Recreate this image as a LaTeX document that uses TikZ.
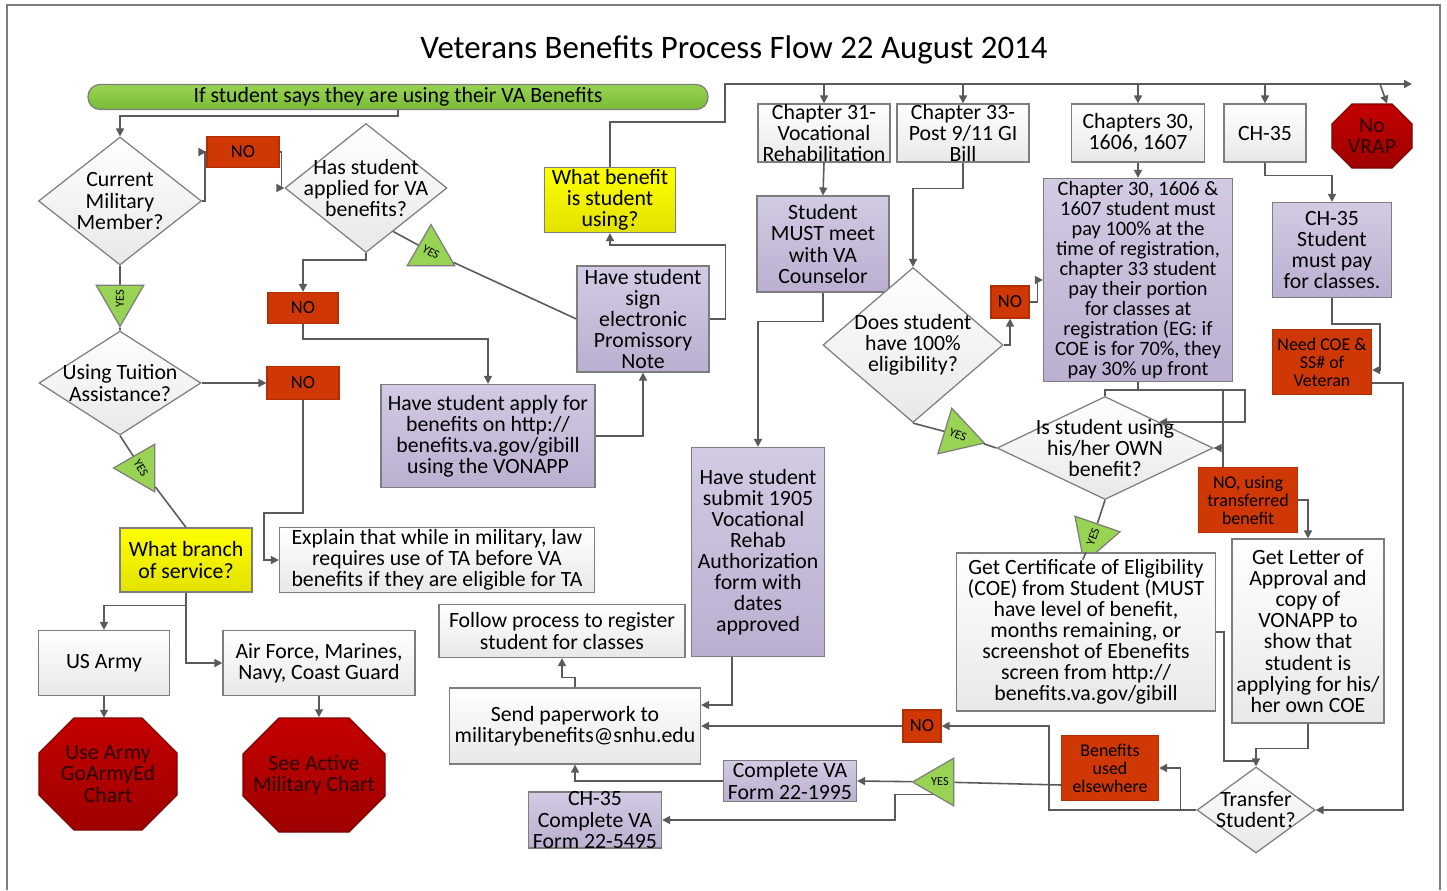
\documentclass[tikz,border=0pt]{standalone}
\usepackage{fontspec}
\setmainfont{Carlito}
\usetikzlibrary{positioning,shapes.geometric,arrows.meta}

\definecolor{lnc}{RGB}{90,90,90}
\definecolor{bdc}{RGB}{125,125,125}
\definecolor{prtop}{RGB}{210,203,227}
\definecolor{prbot}{RGB}{186,175,208}
\definecolor{nored}{RGB}{207,56,4}
\definecolor{stopred}{RGB}{196,0,0}
\definecolor{stopdark}{RGB}{158,0,0}
\definecolor{stoptext}{RGB}{40,0,0}
\definecolor{grtop}{RGB}{152,211,84}
\definecolor{grbot}{RGB}{121,186,52}
\definecolor{yltop}{RGB}{255,255,0}
\definecolor{ylbot}{RGB}{226,226,0}

\newlength\px
\setlength\px{0.02cm}

% octagon: centre x, centre y, half width, half height, chamfer
\newcommand\stopoct[5]{%
  \path[top color=stopred, bottom color=stopdark, draw=stopdark!80!black, line width=0.7pt]
    ({#1-#3+#5},{#2-#4}) -- ({#1+#3-#5},{#2-#4}) -- ({#1+#3},{#2-#4+#5})
    -- ({#1+#3},{#2+#4-#5}) -- ({#1+#3-#5},{#2+#4}) -- ({#1-#3+#5},{#2+#4})
    -- ({#1-#3},{#2+#4-#5}) -- ({#1-#3},{#2-#4+#5}) -- cycle;}

\tikzset{
  wh/.style 2 args={minimum width=#1\px, minimum height=#2\px},
  base/.style={draw=bdc, line width=0.7pt, align=center, inner sep=1pt,
    font=\fontsize{12.4}{12}\selectfont},
  plainbox/.style={base, rectangle, top color=white, bottom color=black!9},
  taskbox/.style={base, rectangle, top color=prtop, bottom color=prbot},
  askbox/.style={base, rectangle, top color=yltop, bottom color=ylbot},
  nobox/.style={base, rectangle, fill=nored, draw=nored!85!black,
    font=\fontsize{10.5}{12}\selectfont},
  smalltext/.style={font=\fontsize{10.2}{10.2}\selectfont},
  decision/.style={base, diamond, inner sep=-8pt, top color=white, bottom color=black!9},
  stoptxt/.style={align=center, inner sep=1pt, text=stoptext,
    font=\fontsize{12.4}{12}\selectfont},
  yesflag/.style={base, regular polygon, regular polygon sides=3, minimum size=55\px,
    inner sep=0pt, fill=grtop, font=\fontsize{7}{8}\selectfont},
  line/.style={draw=lnc, line width=0.9pt},
  conn/.style={line, -{Triangle[length=4.5pt,width=4.5pt]}},
}

\begin{document}
\begin{tikzpicture}[x=0.02cm,y=-0.02cm]
  \useasboundingbox (0,0) rectangle (1447,890);
  \draw[bdc, line width=1.2pt] (7,890) -- (7,5) -- (1440,5) -- (1440,890);
  \node[font=\fontsize{18.7}{22}\selectfont] (title) at (734,50) {Veterans Benefits Process Flow 22 August 2014};
  \node[base, rounded corners=12\px, top color=grtop, bottom color=grbot, wh={620}{25}] (start) at (398,97) {If student says they are using their VA Benefits};

  % left column
  \node[decision, wh={163}{128}, aspect=1.27] (cmm) at (120,201) {Current\\Military\\Member?};
  \node[nobox, wh={72}{31}] (no1) at (243,152) {NO};
  \node[decision, wh={162}{129}, aspect=1.26] (applied) at (366,188) {Has student\\applied for VA\\benefits?};
  \node[yesflag, rotate=90, shape border rotate=90] (yes1) at (120,299) {YES};
  \node[nobox, wh={70}{31}] (no2) at (303,308) {NO};
  \node[yesflag, rotate=-30, shape border rotate=30] (yes2) at (431,252) {YES};
  \node[decision, wh={162}{104}, aspect=1.56] (ta) at (120,383) {Using Tuition\\Assistance?};
  \node[nobox, wh={72}{33}] (no3) at (303,383) {NO};
  \node[yesflag, rotate=-60, shape border rotate=150] (yes3) at (141,468) {YES};
  \node[askbox, wh={132}{64}] (branch) at (186,560) {What branch\\of service?};
  \node[plainbox, wh={315}{64}] (explain) at (437,560) {Explain that while in military, law\\requires use of TA before VA\\benefits if they are eligible for TA};
  \node[plainbox, wh={131}{65}] (army) at (104,663) {US Army};
  \node[plainbox, wh={192}{65}] (airforce) at (319,663) {Air Force, Marines,\\Navy, Coast Guard};
  \stopoct{108}{774}{69}{56}{35}
  \node[stoptxt, wh={138}{112}] (armyoct) at (108,774) {Use Army\\GoArmyEd\\Chart};
  \stopoct{314}{775}{71}{57}{36}
  \node[stoptxt, wh={143}{115}] (activeoct) at (314,775) {See Active\\Military Chart};

  % middle column
  \node[taskbox, wh={214}{103}] (apply) at (488,436) {Have student apply for\\benefits on http://\\benefits.va.gov/gibill\\using the VONAPP};
  \node[taskbox, wh={132}{106}] (sign) at (643,319) {Have student\\sign\\electronic\\Promissory\\Note};
  \node[askbox, wh={131}{65}] (whatben) at (610,200) {What benefit\\is student\\using?};
  \node[plainbox, wh={246}{53}] (follow) at (562,631) {Follow process to register\\student for classes};
  \node[plainbox, wh={251}{76}] (send) at (575,726) {Send paperwork to\\militarybenefits@snhu.edu};
  \node[taskbox, wh={133}{41}, inner ysep=-1pt] (form1995) at (790,781) {Complete VA\\Form 22-1995};
  \node[taskbox, wh={133}{56}, inner ysep=-3pt] (form5495) at (595,820) {CH-35\\Complete VA\\Form 22-5495};

  % chapter boxes
  \node[plainbox, wh={132}{58}, inner ysep=-2pt] (ch31) at (824,133) {Chapter 31-\\Vocational\\Rehabilitation};
  \node[plainbox, wh={132}{58}, inner ysep=-2pt] (ch33) at (963,133) {Chapter 33-\\Post 9/11 GI\\Bill};
  \node[plainbox, wh={133}{58}] (ch30) at (1138,133) {Chapters 30,\\1606, 1607};
  \node[plainbox, wh={82}{58}] (ch35) at (1265,133) {CH-35};
  \stopoct{1372}{136}{40}{32}{20}
  \node[stoptxt, wh={80}{64}] (novrap) at (1372,136) {No\\VRAP};

  % right part
  \node[taskbox, wh={132}{96}] (meet) at (823,244) {Student\\MUST meet\\with VA\\Counselor};
  \node[taskbox, wh={133}{209}] (submit) at (758,552) {Have student\\submit 1905\\Vocational\\Rehab\\Authorization\\form with\\dates\\approved};
  \node[decision, wh={180}{155}, aspect=1.16] (hundred) at (913,345) {Does student\\have 100\%\\eligibility?};
  \node[nobox, wh={38}{32}] (no4) at (1010,302) {NO};
  \node[taskbox, wh={189}{203}, inner ysep=-3pt, font=\fontsize{11.6}{11.4}\selectfont] (pay) at (1138,280) {Chapter 30, 1606 \&\\1607 student must\\pay 100\% at the\\time of registration,\\chapter 33 student\\pay their portion\\for classes at\\registration (EG: if\\COE is for 70\%, they\\pay 30\% up front};
  \node[yesflag, rotate=-22, shape border rotate=35] (yes4) at (958,435) {YES};
  \node[decision, wh={216}{103}, aspect=2.1] (own) at (1105,448) {Is student using\\his/her OWN\\benefit?};
  \node[yesflag, rotate=70, shape border rotate=91] (yes5) at (1093,537) {YES};
  \node[plainbox, wh={259}{158}] (coe) at (1086,632) {Get Certificate of Eligibility\\(COE) from Student (MUST\\have level of benefit,\\months remaining, or\\screenshot of Ebenefits\\screen from http://\\benefits.va.gov/gibill};
  \node[nobox, smalltext, wh={99}{65}] (notrans) at (1248,500) {NO, using\\transferred\\benefit};
  \node[plainbox, wh={152}{184}] (letter) at (1308,631) {Get Letter of\\Approval and\\copy of\\VONAPP to\\show that\\student is\\applying for his/\\her own COE};
  \node[taskbox, wh={119}{95}] (ch35pay) at (1332,250) {CH-35\\Student\\must pay\\for classes.};
  \node[nobox, smalltext, wh={99}{65}] (needcoe) at (1322,362) {Need COE \&\\SS\# of\\Veteran};
  \node[decision, wh={118}{86}, aspect=1.37] (transfer) at (1256,810) {Transfer\\Student?};
  \node[nobox, wh={38}{32}] (no5) at (922,726) {NO};
  \node[nobox, smalltext, wh={97}{65}] (elsewhere) at (1110,768) {Benefits\\used\\elsewhere};
  \node[yesflag, shape border rotate=90] (yes6) at (940,782) {YES};

  % connectors, left
  \draw[conn] (start.south) -- ++(0,6) -| (cmm.north);
  \draw[conn] (cmm.east) -- ++(3,0) |- (no1.west);
  \draw[conn] (no1.east) -- ++(2,0) |- (applied.west);
  \draw[conn] (applied.south) -- ++(0,7) -| (no2.north);
  \draw[conn] (no2.south) -- ++(0,15) -| (apply.north);
  \draw[line] (applied.-58) -- (yes2) -- (sign.west);
  \draw[line] (cmm.south) -- (yes1) -- (ta.north);
  \draw[conn] (ta.east) -- (no3.west);
  \draw[conn] (no3.south) |- (264,513) |- (explain.west);
  \draw[line] (ta.south) -- (yes3) -- (branch.north);
  \draw[conn] (branch.south) -- ++(0,13) -| (army.north);
  \draw[conn] (branch.south) |- (airforce.west);
  \draw[conn] (army.south) -- (army.south |- armyoct.north);
  \draw[conn] (airforce.south) -- (airforce.south |- activeoct.north);

  % connectors, middle
  \draw[conn] (apply.east) -| (sign.south);
  \draw[conn] (sign.east) -- ++(16,0) -- ++(0,-74) -| (whatben.south);
  \coordinate (busend) at (1412,84);
  \draw[conn] (whatben.north) |- (725,122) |- (busend);
  \foreach \n in {ch31,ch33,ch30,ch35}
    \draw[conn] (\n.north |- busend) -- (\n.north);
  \draw[conn] (busend -| 1380,0) -- ([xshift=15\px]novrap.north);
  \draw[conn] (ch31.south) -- (meet.north);
  \draw[conn] (meet.south) -- ++(0,29) -| (submit.north);
  \draw[conn] ([xshift=-26\px]submit.south) |- ([yshift=21\px]send.east);
  \draw[conn] (send.north) -- ++(0,-10) -| (follow.south);
  \draw[conn] (form1995.west) -| (send.south);

  % connectors, right
  \draw[conn] (ch33.south) -- ++(0,26) -| (hundred.north);
  \draw[conn] (ch30.south) -- (pay.north);
  \draw[conn] (hundred.east) -| (no4.south);
  \draw[conn] (no4.east) -- ++(8,0) |- (pay.west);
  \draw[line] (hundred.south) -- (yes4) -- (own.west);
  \coordinate (split) at (1138,390);
  \coordinate (tap) at (1223,448);
  \draw[line] (pay.south) -- (split) -| (own.north);
  \draw[conn] (split) -| (own.north east -| 1245,0) -- (own.north east);
  \draw[line] (split -| tap) -- (notrans.north -| tap);
  \draw[conn] (tap) -- (own.east);
  \draw[line] (own.south) -- (yes5) -- (coe.north);
  \draw[conn] (notrans.east) -| (letter.north);
  \draw[conn] (letter.south) -- ++(0,25) -| (transfer.north);
  \draw[line] (coe.east) -- ++(8,0) |- (transfer.north |- 0,761);
  \draw[conn] (ch35.south) -- ++(0,13) -| (ch35pay.north);
  \draw[conn] (ch35pay.south) -- ++(0,26) -| (1380,370) -- (needcoe.east |- 0,370);
  \draw[conn] (needcoe.east |- 0,383) -| (1403,810) -- (transfer.east);
  \draw[conn] (transfer.west) -- ++(-16,0) |- (elsewhere.east);
  \draw[conn] (transfer.west) -| (1049,726) -- (no5.east);
  \draw[conn] (no5.west) -- (send.east);
  \draw[line] ([yshift=-17\px]elsewhere.west) -- (yes6);
  \draw[conn] (yes6) -- (form1995.east);
  \draw[conn] (yes6.side 1) -| (895,820) -- (form5495.east);
\end{tikzpicture}
\end{document}
